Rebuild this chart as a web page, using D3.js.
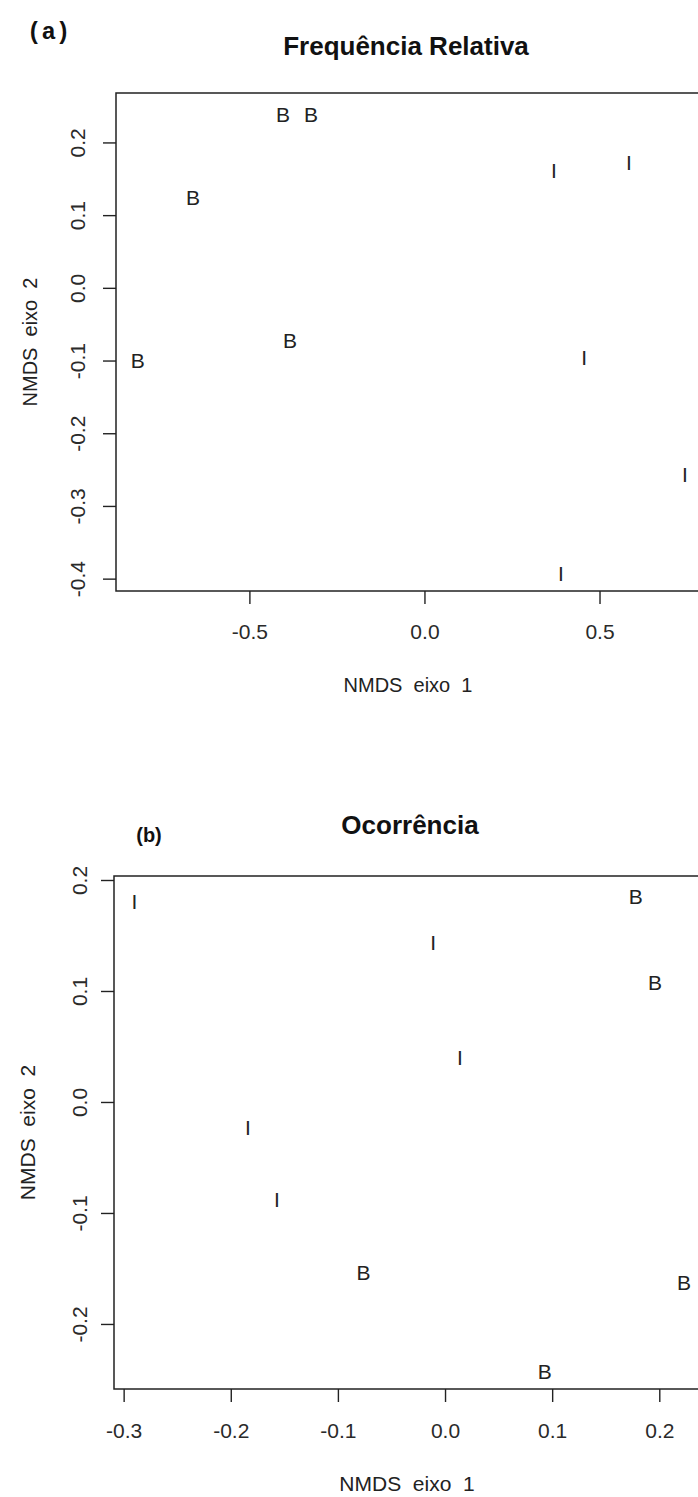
<!DOCTYPE html>
<html>
<head>
<meta charset="utf-8">
<script src="https://cdn.jsdelivr.net/npm/d3@7"></script>
<style>
  html, body { margin: 0; padding: 0; background: #fff; }
  svg { display: block; font-family: "Liberation Sans", Arial, sans-serif; }
</style>
</head>
<body>
<svg id="chart" width="698" height="1497"></svg>
<script>
// ---------- Panel (a): Frequência Relativa ----------
const labelsA = ["B", "B", "B", "B", "B", "I", "I", "I", "I", "I"];
const eixo1A  = [-0.404, -0.324, -0.661, -0.384, -0.819, 0.370, 0.584, 0.456, 0.744, 0.390];
const eixo2A  = [ 0.239,  0.239,  0.125, -0.073, -0.100, 0.162, 0.173, -0.096, -0.257, -0.393];
const xTicksA = [-0.5, 0.0, 0.5];
const yTicksA = [-0.4, -0.3, -0.2, -0.1, 0.0, 0.1, 0.2];

// ---------- Panel (b): Ocorrência ----------
const labelsB = ["I", "I", "I", "I", "I", "B", "B", "B", "B", "B"];
const eixo1B  = [-0.290, -0.011, 0.014, -0.184, -0.157, 0.178, 0.196, -0.076, 0.093, 0.223];
const eixo2B  = [ 0.181,  0.144, 0.040, -0.023, -0.088, 0.185, 0.108, -0.154, -0.243, -0.163];
const xTicksB = [-0.3, -0.2, -0.1, 0.0, 0.1, 0.2];
const yTicksB = [-0.2, -0.1, 0.0, 0.1, 0.2];

const svg = d3.select("#chart");
const fmt = d => d.toFixed(1);
const SANS = "Liberation Sans, Arial, sans-serif";

function panel(cfg) {
  const x = d3.scaleLinear().domain(cfg.xDom).range([cfg.left, cfg.right]);
  const y = d3.scaleLinear().domain(cfg.yDom).range([cfg.bottom, cfg.top]);
  const g = svg.append("g");

  // x axis
  const gx = g.append("g")
    .attr("transform", `translate(0,${cfg.bottom})`)
    .call(d3.axisBottom(x).tickValues(cfg.xTicks).tickFormat(fmt).tickSize(13).tickPadding(cfg.xPad));
  gx.select(".domain").remove();
  gx.selectAll(".tick line").attr("stroke", "#222").attr("stroke-width", 1.4);
  gx.selectAll(".tick text").attr("font-size", cfg.fs).attr("fill", "#2a2a2a")
    .attr("font-family", SANS);

  // y axis (labels rotated like R)
  const gy = g.append("g")
    .attr("transform", `translate(${cfg.left},0)`)
    .call(d3.axisLeft(y).tickValues(cfg.yTicks).tickFormat(fmt).tickSize(13));
  gy.select(".domain").remove();
  gy.selectAll(".tick line").attr("stroke", "#222").attr("stroke-width", 1.4);
  gy.selectAll(".tick text")
    .attr("font-size", cfg.fs).attr("fill", "#2a2a2a")
    .attr("font-family", SANS)
    .attr("transform", "rotate(-90)")
    .attr("x", 0).attr("y", -cfg.yLabOff).attr("dy", 0)
    .attr("text-anchor", "middle");

  // box
  g.append("rect")
    .attr("x", cfg.left).attr("y", cfg.top)
    .attr("width", cfg.right - cfg.left).attr("height", cfg.bottom - cfg.top)
    .attr("fill", "none").attr("stroke", "#222").attr("stroke-width", 1.5);

  // point labels
  g.append("g").selectAll("text")
    .data(cfg.labels.map((l, i) => ({ l, a: cfg.e1[i], b: cfg.e2[i] })))
    .join("text")
    .attr("x", d => x(d.a)).attr("y", d => y(d.b))
    .attr("dy", "0.36em")
    .attr("text-anchor", "middle")
    .attr("font-family", SANS)
    .attr("font-size", cfg.ptFs)
    .attr("fill", "#222")
    .text(d => d.l);

  // axis titles
  const cx = (cfg.left + cfg.right) / 2;
  const cy = (cfg.top + cfg.bottom) / 2;
  g.append("text").attr("x", cx).attr("y", cfg.xTitleY)
    .attr("text-anchor", "middle").attr("font-size", cfg.titleFs)
    .attr("font-family", SANS).attr("fill", "#222")
    .style("white-space", "pre").attr("xml:space", "preserve")
    .text("NMDS  eixo  1");
  g.append("text")
    .attr("transform", `translate(${cfg.yTitleX},${cy}) rotate(-90)`)
    .attr("text-anchor", "middle").attr("font-size", cfg.titleFs)
    .attr("font-family", SANS).attr("fill", "#222")
    .style("white-space", "pre").attr("xml:space", "preserve")
    .text("NMDS  eixo  2");

  // main title
  g.append("text").attr("x", cfg.mainX).attr("y", cfg.mainY)
    .attr("text-anchor", "middle").attr("font-size", 26).attr("font-weight", "bold")
    .attr("font-family", SANS).attr("fill", "#111")
    .text(cfg.main);
}

panel({
  xDom: [-0.881, 0.787], yDom: [-0.417, 0.268],
  left: 116, right: 700, top: 93, bottom: 591,
  xTicks: xTicksA, yTicks: yTicksA, xPad: 20, yLabOff: 31,
  fs: 21, ptFs: 21, titleFs: 20,
  labels: labelsA, e1: eixo1A, e2: eixo2A,
  xTitleY: 692, yTitleX: 37,
  main: "Frequência Relativa", mainX: 406, mainY: 55
});

panel({
  xDom: [-0.309, 0.238], yDom: [-0.2586, 0.2036],
  left: 114, right: 700, top: 876, bottom: 1389,
  xTicks: xTicksB, yTicks: yTicksB, xPad: 21, yLabOff: 27,
  fs: 21, ptFs: 21, titleFs: 21,
  labels: labelsB, e1: eixo1B, e2: eixo2B,
  xTitleY: 1491, yTitleX: 35,
  main: "Ocorrência", mainX: 410, mainY: 834
});

// panel tags
svg.append("text").attr("x", 27).attr("y", 39)
  .style("font-family", "'Liberation Mono', 'Courier New', monospace")
  .attr("font-weight", "bold").attr("font-size", 24).attr("fill", "#111")
  .text("(a)");
svg.append("text").attr("x", 149).attr("y", 842)
  .attr("text-anchor", "middle")
  .attr("font-family", SANS)
  .attr("font-weight", "bold").attr("font-size", 20).attr("fill", "#111")
  .text("(b)");
</script>
</body>
</html>
